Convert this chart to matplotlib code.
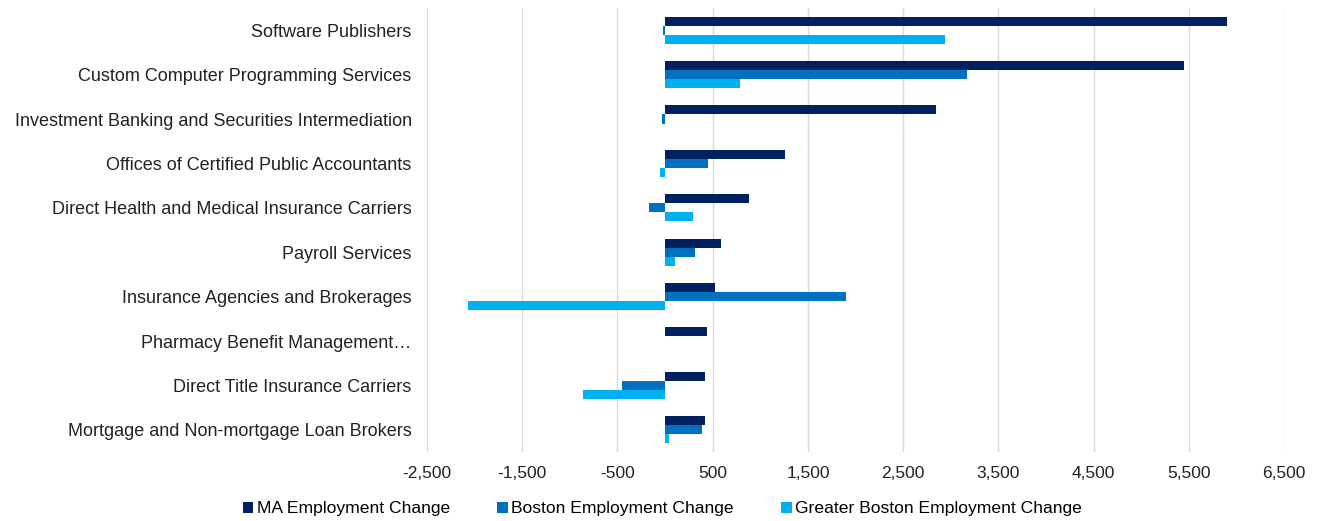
import matplotlib
matplotlib.use("Agg")
import matplotlib.pyplot as plt
import numpy as np

plt.rcParams['font.family'] = ['Liberation Sans', 'DejaVu Sans']

# industries, top to bottom
industries = [
    "Software Publishers",
    "Custom Computer Programming Services",
    "Investment Banking and Securities Intermediation",
    "Offices of Certified Public Accountants",
    "Direct Health and Medical Insurance Carriers",
    "Payroll Services",
    "Insurance Agencies and Brokerages",
    "Pharmacy Benefit Management\u2026",
    "Direct Title Insurance Carriers",
    "Mortgage and Non-mortgage Loan Brokers",
]
ma_change = [5900, 5455, 2850, 1257, 882, 584, 528, 437, 416, 416]
boston_change = [-25, 3175, -35, 448, -168, 311, 1904, 0, -452, 392]
greater_boston_change = [2940, 784, 0, -50, 297, 108, -2066, 0, -861, 42]

series_names = ["MA Employment Change", "Boston Employment Change",
                "Greater Boston Employment Change"]
colors = ["#002060", "#0070C0", "#00B0F0"]
xticks = list(range(-2500, 7500, 1000))

fig = plt.figure(figsize=(13.22, 5.21), dpi=100)
ax = fig.add_axes([427 / 1322, 1 - 452 / 521, (1284 - 427) / 1322, (452 - 8) / 521])

y = np.arange(len(industries))
h = 0.205
for i, (vals, name, c) in enumerate(zip([ma_change, boston_change, greater_boston_change],
                                         series_names, colors)):
    ax.barh(y + (i - 1) * h, vals, height=h, color=c, label=name, linewidth=0, zorder=3)

ax.set_xlim(-2500, 6500)
ax.set_ylim(len(industries) - 0.5, -0.5)
ax.set_xticks(xticks)
ax.set_xticklabels([f"{t:,}" for t in xticks], fontsize=12.5, color="#222222")
ax.set_yticks(y)
ax.set_yticklabels(industries, fontsize=13, color="#222222")
ax.tick_params(axis="both", length=0)
ax.tick_params(axis="y", pad=11)
ax.tick_params(axis="x", pad=10)
ax.grid(axis="x", color="#d9d9d9", linewidth=1, zorder=0)
for s in ax.spines.values():
    s.set_visible(False)

fig.legend(loc="center", bbox_to_anchor=(0.501, 1 - 509 / 521), ncol=3, frameon=False,
           fontsize=12.6, handlelength=0.6, handleheight=0.6, handletextpad=0.2,
           columnspacing=2.7)

fig.savefig("out.png", dpi=100)
